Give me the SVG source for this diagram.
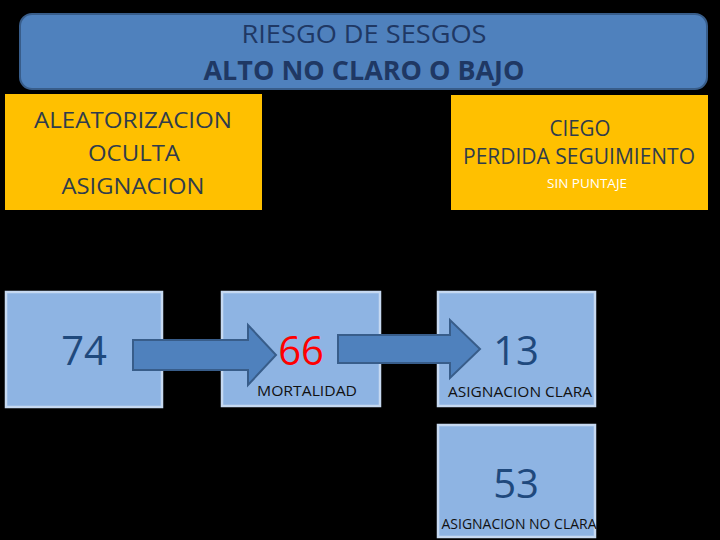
<svg xmlns="http://www.w3.org/2000/svg" width="720" height="540" viewBox="0 0 720 540">
<style>
text{font-family:"Open Sans","Liberation Sans",sans-serif;text-anchor:middle}
.ybox{fill:#FFC000}
.bbox{fill:#8EB4E3;stroke:#C6D9F1;stroke-width:2.5}
.ytxt{fill:#2F3C4C;font-size:22px}
.num{fill:#1F497D;font-size:40px}
.lab{fill:#111;font-size:14px}
.arrow{fill:#4F81BD;stroke:#385D8A;stroke-width:2}
</style>
<rect width="720" height="540" fill="#000"/>
<g id="title">
<rect x="20" y="14" width="687" height="75" rx="12" fill="#4F81BD" stroke="#385D8A" stroke-width="2"/>
<text x="364" y="43" font-size="26" fill="#1F3864" textLength="245" lengthAdjust="spacingAndGlyphs">RIESGO DE SESGOS</text>
<text x="364" y="80" font-size="26" font-weight="bold" fill="#1F3864" textLength="321" lengthAdjust="spacingAndGlyphs">ALTO NO CLARO O BAJO</text>
</g>
<g id="aleatorizacion">
<rect class="ybox" x="5" y="94" width="257" height="116"/>
<text class="ytxt" x="133" y="128" textLength="198" lengthAdjust="spacingAndGlyphs">ALEATORIZACION</text>
<text class="ytxt" x="134" y="161" textLength="92" lengthAdjust="spacingAndGlyphs">OCULTA</text>
<text class="ytxt" x="133" y="194" textLength="143" lengthAdjust="spacingAndGlyphs">ASIGNACION</text>
</g>
<g id="ciego">
<rect class="ybox" x="451" y="95" width="257" height="115"/>
<text class="ytxt" x="580" y="136" font-size="20" textLength="61" lengthAdjust="spacingAndGlyphs">CIEGO</text>
<text class="ytxt" x="579" y="164" textLength="232" lengthAdjust="spacingAndGlyphs">PERDIDA SEGUIMIENTO</text>
<text x="587" y="188" font-size="13" fill="#fff" textLength="80" lengthAdjust="spacingAndGlyphs">SIN PUNTAJE</text>
</g>
<g id="n74">
<rect class="bbox" x="6" y="292" width="156" height="115"/>
<text class="num" x="84" y="365">74</text>
</g>
<g id="n66">
<rect class="bbox" x="222" y="292" width="158" height="114"/>
<text class="num" x="301" y="365" style="fill:#FF0000">66</text>
<text class="lab" x="307" y="396" textLength="100" lengthAdjust="spacingAndGlyphs">MORTALIDAD</text>
</g>
<g id="n13">
<rect class="bbox" x="438" y="292" width="157" height="114"/>
<text class="num" x="516" y="365">13</text>
<text class="lab" x="520" y="397" textLength="144" lengthAdjust="spacingAndGlyphs">ASIGNACION CLARA</text>
</g>
<g id="n53">
<rect class="bbox" x="438" y="425" width="157" height="112"/>
<text class="num" x="516" y="498">53</text>
<text class="lab" x="519" y="529" textLength="155" lengthAdjust="spacingAndGlyphs">ASIGNACION NO CLARA</text>
</g>
<g id="connectors">
<polygon class="arrow" points="133,340 248,340 248,325 276,355 248,385 248,370 133,370"/>
<polygon class="arrow" points="338,335 450,335 450,320 480,349 450,378 450,363 338,363"/>
</g>
</svg>
